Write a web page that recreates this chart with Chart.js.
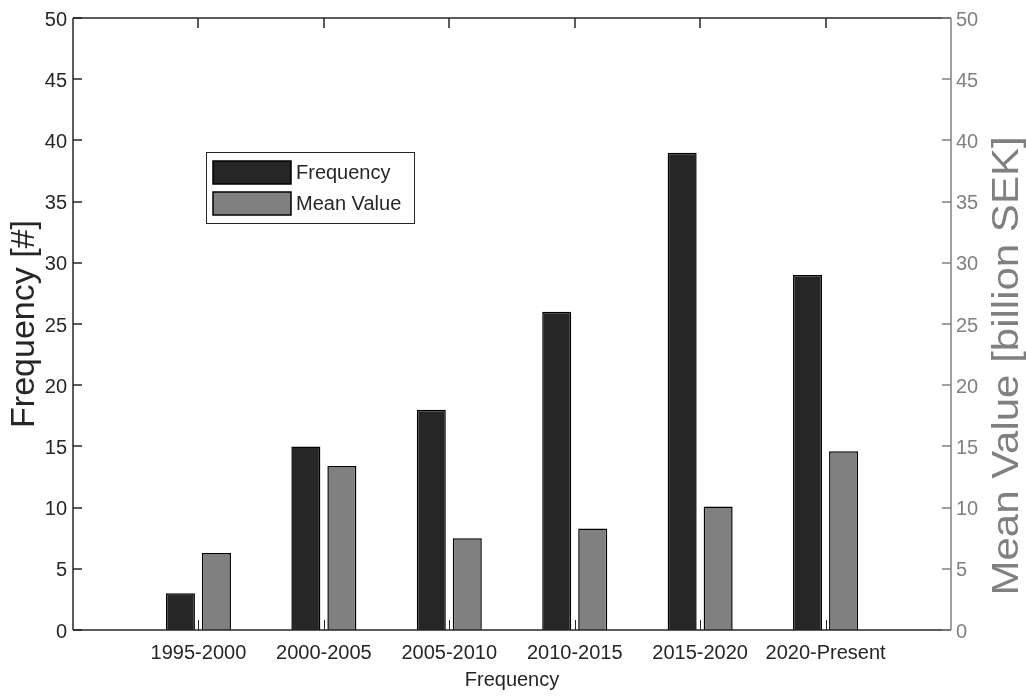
<!DOCTYPE html>
<html><head><meta charset="utf-8">
<script src="https://cdn.jsdelivr.net/npm/chart.js@4.4.0/dist/chart.umd.min.js"></script>
<style>html,body{margin:0;padding:0;background:#fff;}canvas{display:block;}</style>
</head><body>
<canvas id="c" width="1026" height="698"></canvas>
<script>
const categories = ['1995-2000','2000-2005','2005-2010','2010-2015','2015-2020','2020-Present'];
const frequency = [3, 15, 18, 26, 39, 29];
const meanValue = [6.3, 13.4, 7.5, 8.3, 10.1, 14.6];
const seriesNames = ['Frequency', 'Mean Value'];
const xTitle = 'Frequency';
const yTitle = 'Frequency [#]';
const y2Title = 'Mean Value [billion SEK]';
const yMin = 0, yMax = 50, yStep = 5;

const DARK = '#262626', GRAY = '#808080';
const FONT = '"Liberation Sans", Arial, sans-serif';
const labels = ['', ...categories, ''];
const pad = arr => [null, ...arr, null];

const decor = {
  id: 'decor',
  afterDatasetsDraw(chart) {
    const {ctx, chartArea: a, scales: {x, y, y2}} = chart;
    const L = Math.round(a.left), R = Math.round(a.right), T = Math.round(a.top), B = Math.round(a.bottom);
    ctx.save();
    ctx.lineWidth = 1.5;
    const line = (x1, y1, x2, y2_) => { ctx.beginPath(); ctx.moveTo(x1, y1); ctx.lineTo(x2, y2_); ctx.stroke(); };
    ctx.strokeStyle = DARK;
    y.ticks.forEach((t, i) => { const p = Math.round(y.getPixelForTick(i)); line(L, p, L + 9, p); });
    for (let i = 1; i < x.ticks.length - 1; i++) {
      const p = Math.round(x.getPixelForTick(i));
      line(p, T, p, T + 10);
      ctx.lineWidth = 1;
      line(p + 0.5, B, p + 0.5, B - 10);
      ctx.lineWidth = 1.5;
    }
    line(L, T, R, T);
    line(L, T, L, B);
    line(L, B, R, B);
    ctx.strokeStyle = GRAY;
    y2.ticks.forEach((t, i) => { const p = Math.round(y2.getPixelForTick(i)); line(R - 9, p, R, p); });
    line(R, T, R, B);

    // legend
    const lx = 206, ly = 152, lw = 208, lh = 71;
    ctx.fillStyle = '#fff';
    ctx.fillRect(lx, ly, lw, lh);
    ctx.strokeStyle = DARK; ctx.lineWidth = 1;
    ctx.strokeRect(lx + 0.5, ly + 0.5, lw, lh);
    ctx.font = '20px ' + FONT;
    ctx.textBaseline = 'middle';
    ctx.textAlign = 'left';
    chart.data.datasets.forEach((ds, i) => {
      const sy = 161 + i * 31;
      ctx.fillStyle = ds.backgroundColor;
      ctx.fillRect(213, sy, 78, 23);
      ctx.strokeStyle = '#000'; ctx.lineWidth = 1.5;
      ctx.strokeRect(213, sy, 78, 23);
      ctx.fillStyle = DARK;
      ctx.fillText(ds.label, 296, sy + 12);
    });
    ctx.restore();
  },
  afterDraw(chart) {
    const {ctx, chartArea: a} = chart;
    const cy = (a.top + a.bottom) / 2;
    ctx.save();
    ctx.textAlign = 'center';
    ctx.textBaseline = 'middle';
    // x title
    ctx.fillStyle = DARK;
    ctx.font = '20px ' + FONT;
    ctx.fillText(xTitle, (a.left + a.right) / 2, 680);
    // left title
    ctx.save();
    ctx.translate(25, cy);
    ctx.rotate(-Math.PI / 2);
    ctx.font = '34px ' + FONT;
    ctx.fillText(yTitle, 0, 0);
    ctx.restore();
    // right title
    ctx.save();
    ctx.translate(1008, 366);
    ctx.rotate(-Math.PI / 2);
    ctx.scale(1, 0.86);
    ctx.fillStyle = GRAY;
    ctx.font = '42px ' + FONT;
    ctx.fillText(y2Title, 0, 0);
    ctx.restore();
    ctx.restore();
  }
};

new Chart(document.getElementById('c'), {
  type: 'bar',
  data: {
    labels: labels,
    datasets: [
      { label: seriesNames[0], data: pad(frequency), yAxisID: 'y', backgroundColor: '#262626', borderColor: '#000', borderWidth: 1.5, categoryPercentage: 0.574, barPercentage: 0.806 },
      { label: seriesNames[1], data: pad(meanValue), yAxisID: 'y2', backgroundColor: '#808080', borderColor: '#000', borderWidth: 1.5, categoryPercentage: 0.574, barPercentage: 0.806 }
    ]
  },
  options: {
    responsive: false,
    animation: false,
    layout: { padding: { top: 13, left: 0, right: 0, bottom: 0 } },
    plugins: { legend: { display: false }, tooltip: { enabled: false }, title: { display: false } },
    scales: {
      x: {
        type: 'category',
        offset: false,
        grid: { display: false, drawTicks: false },
        border: { display: false },
        ticks: { color: DARK, font: { family: FONT, size: 20 }, padding: 11, autoSkip: false, maxRotation: 0 },
        afterFit: s => { s.height = 68; }
      },
      y: {
        position: 'left',
        min: yMin, max: yMax,
        grid: { display: false, drawTicks: false },
        border: { display: false },
        ticks: { stepSize: yStep, color: DARK, font: { family: FONT, size: 20 }, padding: 6, labelOffset: 2 },
        afterFit: s => { s.width = 73; }
      },
      y2: {
        position: 'right',
        min: yMin, max: yMax,
        grid: { display: false, drawTicks: false },
        border: { display: false },
        ticks: { stepSize: yStep, color: GRAY, font: { family: FONT, size: 20 }, padding: 5, labelOffset: 2 },
        afterFit: s => { s.width = 75; }
      }
    }
  },
  plugins: [decor]
});
</script>
</body></html>
